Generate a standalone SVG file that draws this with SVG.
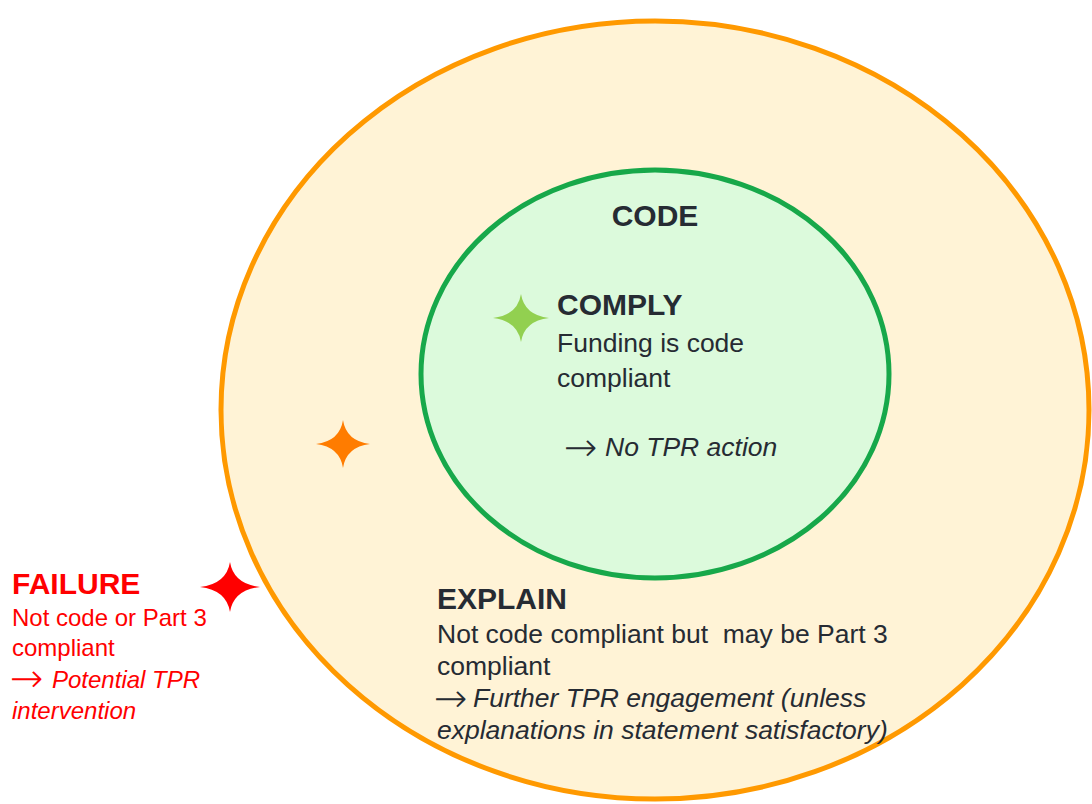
<svg xmlns="http://www.w3.org/2000/svg" xmlns:xlink="http://www.w3.org/1999/xlink" width="1092" height="804" viewBox="0 0 1092 804">
<style>
text{font-family:"Liberation Sans",Arial,sans-serif;white-space:pre}
.dk{fill:#262b33}
.rd{fill:#ff0000}
.h{font-weight:bold;font-size:30px}
.b{font-size:26.5px}
.f{font-size:24px}
.i{font-style:italic}
.ar{font-family:"DejaVu Sans",sans-serif;font-style:normal;font-weight:200;font-size:40px}
</style>
<defs>
<path id="star" d="M0,-1 Q0.12,-0.12 1,0 Q0.12,0.12 0,1 Q-0.12,0.12 -1,0 Q-0.12,-0.12 0,-1Z"/>
</defs>
<rect width="1092" height="804" fill="#ffffff"/>
<g id="explain">
<ellipse cx="655" cy="410" rx="434" ry="389" fill="#fff3d6" stroke="#ff9900" stroke-width="5"/>
<text class="dk h" x="437" y="609">EXPLAIN</text>
<text class="dk b" x="437" y="643" xml:space="preserve">Not code compliant but  may be Part 3</text>
<text class="dk b" x="437" y="675">compliant</text>
<text class="dk b i" x="434" y="707"><tspan class="ar" dy="5">→</tspan> <tspan x="473" dy="-5">Further TPR engagement (unless</tspan></text>
<text class="dk b i" x="437" y="739">explanations in statement satisfactory)</text>
<use xlink:href="#star" href="#star" fill="#ff7c00" transform="translate(343,444) scale(27,24)"/>
</g>
<g id="code">
<ellipse cx="655" cy="374" rx="234" ry="204" fill="#dcfadc" stroke="#17a84a" stroke-width="5"/>
<text class="dk h" x="655" y="226" text-anchor="middle">CODE</text>
<text class="dk h" x="557" y="315">COMPLY</text>
<text class="dk b" x="557" y="352">Funding is code</text>
<text class="dk b" x="557" y="387">compliant</text>
<text class="dk b i" x="564" y="456"><tspan class="ar" dy="5">→</tspan> <tspan x="605" dy="-5">No TPR action</tspan></text>
<use xlink:href="#star" href="#star" fill="#92d050" transform="translate(521,318) scale(28,24)"/>
</g>
<g id="failure">
<use xlink:href="#star" href="#star" fill="#ff0000" transform="translate(230,587) scale(30,25)"/>
<text class="rd h" x="12" y="594">FAILURE</text>
<text class="rd f" x="12" y="626">Not code or Part 3</text>
<text class="rd f" x="12" y="656">compliant</text>
<text class="rd f i" x="10" y="688"><tspan class="ar" dy="4">→</tspan> <tspan x="52" dy="-4">Potential TPR</tspan></text>
<text class="rd f i" x="12" y="719">intervention</text>
</g>
<g id="connectors"/>
</svg>
